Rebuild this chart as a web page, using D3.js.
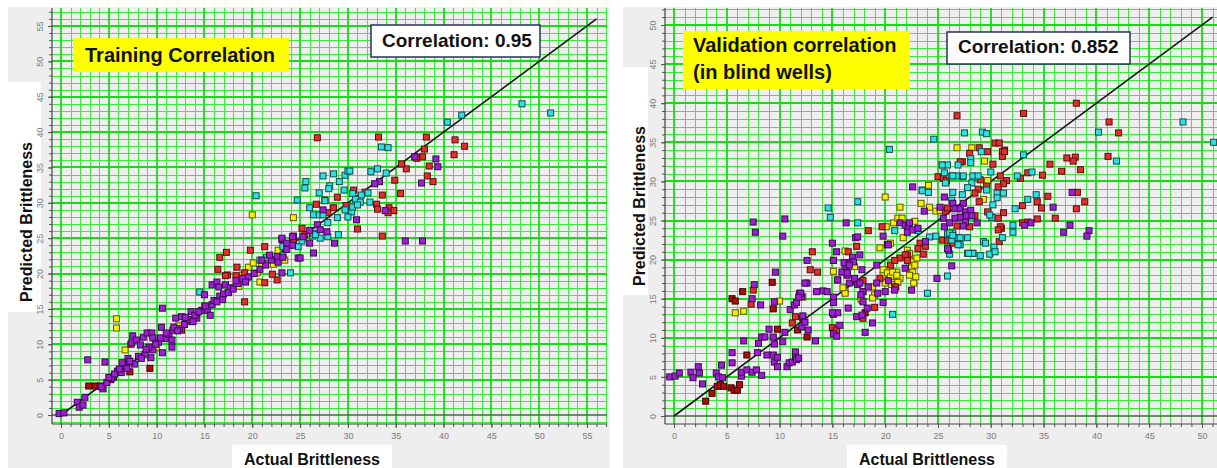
<!DOCTYPE html>
<html>
<head>
<meta charset="utf-8">
<script src="https://cdn.jsdelivr.net/npm/d3@7"></script>
<style>
body { margin: 0; background: #fff; }
svg text { font-family: "Liberation Sans", Arial, sans-serif; }
</style>
</head>
<body>
<div id="chart"></div>
<script>

// ---- training panel (actual, predicted) ----
let trainPurple = [
[-0.2,0.2],[0.3,0.3],[1.7,1.8],[1.9,1.1],[2.3,1.4],[2.5,2.5],[2.8,7.8],[4.4,3.7],[4.6,7.5],[4.2,4.0],[4.8,4.6],[5.3,5.2],[5.9,6.2],[6.3,6.0],[6.6,7.0],[6.9,6.6],[7.0,8.0],[7.4,10.2],[7.5,11.2],[7.9,10.6],[8.3,9.9],[8.6,11.0],[9.0,11.6],[9.5,11.6],[9.6,10.9],[9.4,8.1],[9.6,9.2],[7.7,7.2],[8.1,8.3],[8.8,8.6],[9.2,9.6],[10.6,15.1],[10.6,8.8],[10.5,12.4],[10.2,10.3],[10.9,10.8],[11.3,11.4],[11.6,9.6],[11.6,10.6],[11.7,12.0],[11.8,12.4],[12.0,13.7],[12.6,13.9],[13.1,13.2],[13.6,14.6],[14.2,13.7],[12.4,12.2],[12.9,12.8],[13.4,13.5],[14.0,14.1],[14.7,14.8],[15.3,14.8],[15.6,14.1],[15.8,15.6],[15.0,17.0],[15.8,18.4],[16.3,18.8],[16.5,18.1],[17.2,18.4],[17.7,18.0],[16.0,16.2],[16.6,16.8],[17.0,17.1],[17.5,17.3],[18.0,17.8],[18.5,18.6],[19.0,19.3],[19.6,19.5],[20.2,20.0],[20.8,20.6],[21.4,21.2],[22.0,21.9],[22.6,22.4],[23.1,20.1],[24.8,22.2],[24.3,25.3],[23.1,24.8],[26.4,22.9],[25.0,22.2],[26.8,26.9],[27.8,25.9],[27.1,26.2],[28.6,24.3],[27.4,29.0],[30.9,27.6],[33.9,28.9],[36.0,24.6],[37.8,24.6],[26.0,24.3],[33.3,33.0],[32.8,32.7],[39.2,36.2],[39.4,35.1],[37.0,36.5],[37.7,32.8],[23.6,23.4],[24.2,24.0],[25.3,25.2],[26.0,26.1],[23.1,25.0],[24.2,25.2],[23.6,24.3],
[5.0,5.3],[5.6,5.8],[6.1,6.5],[6.4,7.4],[7.2,7.6],[8.4,8.0],[8.9,9.3],[9.9,10.0],[10.4,10.9],[11.0,11.6],[12.2,11.9],[13.0,13.8],[13.8,13.2],[14.4,14.6],[15.1,15.4],[16.3,16.0],[16.9,16.3],[18.3,19.0],[19.3,18.8],[21.0,21.9],[21.8,22.6],[22.7,21.6],[23.2,22.3]
];
let trainRed = [
[5.2,5.0],[7.3,10.0],[12.6,12.0],[16.6,22.3],[17.3,23.0],[16.4,20.6],[17.4,19.8],[17.2,19.7],[18.4,20.9],[19.8,23.3],[21.3,23.8],[19.2,16.0],[21.3,18.7],[22.6,19.1],[22.1,19.9],[18.3,19.7],[19.2,20.1],[26.8,39.2],[26.7,29.8],[27.6,30.4],[28.5,29.3],[28.9,30.8],[30.6,31.8],[31.0,26.3],[25.2,26.4],[25.5,25.5],[33.2,39.3],[38.2,39.3],[41.2,38.9],[42.2,38.0],[41.1,36.8],[38.0,37.6],[37.0,36.5],[37.8,36.5],[37.2,36.3],[38.5,35.2],[38.3,33.8],[38.9,33.0],[36.1,34.8],[35.6,35.5],[34.9,33.2],[35.5,31.3],[33.6,31.1],[33.0,29.8],[33.1,29.1],[34.3,29.3],[34.8,28.9],[34.2,28.6],[33.6,25.3],[29.8,29.6],[31.8,31.5],[24.3,24.6],[27.9,28.6]
];
let trainDarkRed = [
[2.9,4.1],[3.6,4.1],[4.1,4.1],[5.5,5.4],[7.2,6.1],[9.3,6.6]
];
let trainCyan = [
[14.5,17.4],[20.8,21.9],[21.5,22.3],[23.2,22.6],[24.0,20.1],[20.4,31.0],[24.7,30.4],[25.6,33.0],[25.5,32.1],[27.4,33.8],[28.5,34.1],[29.7,33.9],[30.0,34.5],[30.2,34.5],[28.1,32.4],[28.0,32.0],[29.1,33.0],[29.6,31.8],[27.0,31.4],[27.6,30.3],[26.0,29.3],[26.4,28.3],[27.0,28.3],[27.4,28.3],[29.7,29.0],[30.4,28.7],[30.0,28.0],[30.5,29.4],[28.9,27.9],[27.9,27.2],[26.3,25.3],[27.1,25.0],[27.9,25.2],[29.0,25.5],[24.8,23.8],[23.2,23.8],[23.8,24.0],[48.2,44.0],[51.2,42.7],[40.4,41.4],[41.9,42.4],[33.5,37.9],[34.2,37.8],[32.4,34.4],[33.1,34.8],[34.0,34.2],[30.5,31.3],[31.4,31.1],[30.8,30.5],[32.1,31.4],[32.3,30.1],[31.3,30.1],[31.0,29.7],[26.4,25.7],[26.6,25.5],[25.2,24.6],[22.3,22.0]
];
let trainYellow = [
[5.8,13.6],[5.8,12.3],[6.7,9.2],[10.0,9.6],[19.6,20.9],[20.1,21.5],[20.5,20.1],[20.8,18.8],[20.0,28.3],[24.3,27.9],[25.4,25.0],[22.7,23.3],[23.4,21.9],[21.0,21.4],[21.7,22.0],[22.2,21.3],[19.0,19.8],[18.6,18.2],[15.0,15.4],[12.3,12.6]
];
let trainFit = [[0,0],[56,56]];

// ---- validation panel (actual, predicted) ----
let validPurple = [
[-0.4,5.0],[0.1,5.1],[0.5,5.5],[1.6,5.6],[1.8,4.9],[2.3,6.3],[2.4,5.5],[2.7,4.1],[4.0,5.5],[4.2,5.0],[4.6,4.9],[4.5,6.5],[5.5,6.8],[5.5,8.1],[6.4,5.1],[6.4,5.6],[6.9,5.9],[7.4,5.6],[7.8,5.9],[6.6,9.6],[7.4,15.0],[7.6,16.8],[8.2,14.2],[8.3,5.2],[7.9,8.1],[8.0,9.3],[8.3,10.1],[8.8,7.8],[9.4,7.8],[9.5,6.9],[9.8,6.3],[9.8,7.5],[8.6,10.1],[9.0,11.1],[9.4,10.1],[9.5,9.2],[9.5,14.6],[9.6,18.4],[10.3,9.5],[10.5,10.7],[10.7,6.3],[10.9,6.8],[11.2,6.9],[11.5,8.2],[11.5,7.5],[11.6,7.2],[11.8,7.4],[11.0,13.6],[11.4,14.2],[11.6,14.5],[12.1,11.4],[12.2,12.8],[12.4,12.0],[12.7,11.0],[13.4,9.6],[11.9,15.7],[12.1,15.3],[12.6,19.9],[12.6,17.0],[13.5,15.9],[14.1,16.0],[14.5,15.9],[15.0,22.1],[15.1,15.2],[15.1,14.5],[15.1,13.0],[15.5,13.2],[15.1,10.5],[15.4,10.2],[15.7,11.6],[15.4,21.0],[15.5,17.4],[16.5,13.8],[17.3,12.7],[17.8,12.9],[18.3,13.8],[18.8,11.9],[18.1,10.7],[16.2,18.7],[16.4,18.0],[16.6,19.6],[16.9,20.3],[17.0,19.7],[17.2,22.8],[17.4,22.9],[17.4,16.8],[17.9,15.9],[19.2,19.3],[19.8,14.5],[20.0,15.9],[20.2,21.9],[22.5,16.1],[7.5,24.8],[7.7,23.5],[10.5,25.2],[10.3,23.0],[16.3,24.7],[22.6,29.3],[25.6,28.0],[23.7,26.2],[26.4,27.2],[26.9,26.6],[27.4,27.2],[27.7,26.0],[27.1,25.4],[27.6,24.8],[21.4,24.7],[21.9,24.4],[22.2,24.2],[22.1,23.5],[22.6,23.8],[23.1,24.0],[22.3,24.7],[19.8,23.0],[20.3,21.9],[23.8,22.3],[26.0,21.2],[26.3,19.2],[24.9,17.6],[21.9,18.9],[35.9,26.7],[37.7,28.6],[33.2,24.4],[33.8,24.7],[37.5,24.4],[36.9,23.5],[39.3,23.7],[39.1,23.0],[25.2,26.7],[26.6,26.5],[27.1,26.5],[27.6,26.1],[28.1,26.3],[27.7,25.6],[28.2,25.6],[28.7,24.7],[27.4,24.3],[26.6,25.3],[25.5,25.3],[25.6,24.2],[26.1,24.7],[25.9,21.4],[15.1,19.9],[15.9,18.4],[16.1,19.6],[16.4,18.3],[16.6,19.3],[17.6,20.6],[16.6,17.0],[17.1,17.6],[17.6,17.0],[17.8,18.7],[20.3,17.3],[19.3,15.7],[20.9,16.1],[19.2,17.0],[18.4,16.5],[15.0,13.2],[17.9,14.6],[17.7,15.5],[12.0,15.7],[11.8,15.2],[12.4,17.0]
];
let validRed = [
[7.5,16.1],[7.3,14.3],[11.2,11.9],[11.5,12.7],[12.9,18.7],[13.1,21.0],[13.6,18.4],[15.0,11.3],[15.1,10.6],[15.4,11.0],[16.4,18.4],[17.3,17.1],[17.9,17.3],[19.5,17.6],[20.9,16.5],[22.1,20.6],[21.4,20.2],[26.8,38.4],[27.3,32.5],[25.0,30.6],[25.5,30.4],[25.8,30.1],[18.4,23.7],[19.7,24.2],[23.3,22.1],[23.8,21.7],[23.6,20.7],[23.1,21.4],[25.4,22.5],[25.9,22.4],[25.7,26.2],[25.9,26.6],[20.5,19.3],[20.9,19.9],[21.9,20.6],[22.1,19.9],[21.0,16.5],[38.1,40.0],[33.1,38.7],[28.0,33.6],[28.9,34.3],[29.7,33.8],[31.1,33.8],[31.3,34.0],[31.1,33.2],[27.1,32.5],[30.2,32.2],[37.2,33.0],[38.0,33.1],[37.8,32.6],[35.6,32.2],[36.7,31.3],[38.5,31.5],[32.8,30.4],[34.9,30.8],[33.5,31.1],[30.9,30.7],[31.5,30.1],[31.2,29.7],[30.7,29.3],[29.0,30.2],[29.6,29.4],[28.8,29.0],[28.5,28.5],[28.9,27.4],[29.7,26.1],[31.2,26.0],[33.0,26.9],[34.4,27.4],[34.8,26.6],[35.4,28.1],[36.1,25.3],[38.1,26.5],[38.9,27.4],[38.2,28.6],[33.0,24.7],[33.5,24.8],[34.4,25.2],[31.0,24.0],[26.8,24.3],[28.0,24.2],[28.5,25.6],[30.7,25.3],[30.9,24.2],[26.4,22.1],[30.8,22.3],[41.2,37.6],[42.1,36.2],[41.1,33.2],[30.4,34.9],[30.8,34.9],[31.3,33.8],[28.3,20.8],[30.7,23.8],[17.3,21.7],[16.5,21.0],[19.0,13.9],[17.9,12.5]
];
let validDarkRed = [
[3.0,1.9],[3.6,2.9],[4.1,3.8],[4.4,4.0],[4.7,3.8],[5.4,3.6],[5.7,3.3],[6.0,3.3],[6.2,4.0],[6.9,7.8],[5.5,15.0],[5.8,14.7],[6.5,15.9],[9.4,13.7],[9.8,11.1],[11.7,11.0],[12.6,10.1],[12.2,12.5],[9.3,17.1],[18.1,13.2]
];
let validCyan = [
[20.7,13.0],[27.5,36.2],[24.6,35.4],[20.4,34.1],[25.9,32.1],[26.9,32.1],[25.6,31.1],[26.3,30.7],[26.8,30.7],[27.3,30.6],[23.5,28.9],[24.1,28.6],[17.4,27.4],[14.6,26.6],[14.8,25.4],[17.4,24.7],[20.9,23.7],[23.1,23.7],[24.2,22.9],[24.8,23.0],[25.9,23.3],[26.4,23.4],[26.9,22.8],[26.3,22.5],[27.1,21.9],[26.1,20.7],[25.9,17.9],[24.0,15.7],[29.2,36.3],[29.6,36.1],[40.2,36.3],[29.1,33.8],[28.1,32.9],[28.1,32.4],[25.4,32.1],[33.1,33.4],[33.9,31.2],[32.5,30.7],[30.0,31.2],[25.7,29.8],[26.4,30.7],[27.4,30.7],[28.3,30.7],[28.8,30.7],[28.2,29.8],[27.8,29.2],[27.3,28.3],[26.4,28.6],[26.3,27.6],[29.6,28.9],[30.6,28.5],[31.2,28.5],[30.6,27.9],[30.2,27.0],[30.1,25.4],[29.9,25.7],[32.3,26.5],[33.5,27.7],[34.3,28.3],[32.1,24.4],[32.1,23.5],[26.1,23.4],[26.4,23.1],[27.1,22.8],[27.8,22.8],[29.3,22.3],[29.5,22.1],[30.3,21.6],[31.1,22.8],[26.9,21.9],[27.8,20.8],[28.3,20.8],[29.0,20.5],[29.9,20.7],[30.4,21.0],[48.2,37.6],[51.1,35.0],[41.9,32.6],[23.5,28.8],[27.9,20.8]
];
let validYellow = [
[5.8,13.2],[6.6,13.4],[10.0,14.7],[12.2,15.2],[15.1,19.9],[15.5,17.4],[15.1,18.5],[16.2,15.9],[16.2,21.1],[17.1,19.1],[17.8,14.8],[17.9,15.9],[18.8,16.5],[19.0,15.5],[18.8,15.1],[19.5,21.5],[19.8,18.0],[20.3,18.7],[20.2,17.1],[20.6,16.8],[21.1,17.8],[21.4,17.6],[21.1,18.4],[22.3,19.9],[22.5,19.1],[22.6,18.4],[22.9,17.8],[22.3,18.0],[22.7,17.0],[26.8,34.3],[25.4,32.1],[24.1,29.5],[20.0,28.0],[23.4,27.2],[21.4,26.7],[24.2,26.7],[24.8,26.2],[25.2,26.3],[20.1,24.2],[20.8,24.7],[21.2,25.3],[21.6,25.3],[22.8,24.9],[21.7,22.8],[20.5,22.1],[22.1,21.2],[22.3,20.8],[22.5,19.7],[22.8,19.3],[23.0,20.2],[19.8,18.7],[20.2,18.3],[20.5,17.8],[20.7,18.4],[21.1,18.0],[21.2,17.1],[20.0,17.0],[28.2,34.3],[29.4,32.6],[29.7,30.1],[29.3,27.7],[17.7,15.0],[16.2,15.7],[16.0,16.4]
];
let validFit = [[0,0],[51,51]];

let trainTicks = [0,5,10,15,20,25,30,35,40,45,50,55];
let validTicks = [0,5,10,15,20,25,30,35,40,45,50];

function main(){

    let width = 1217;
    let height = 468;

    let svg = d3.select("#chart")
                .append("svg")
                .attr("width", width)
                .attr("height", height)

    svg.append("rect").attr("width", width).attr("height", height).attr("fill", "#ffffff")

    drawPanel(svg, {
        id: "train",
        bg: [8, 7, 602, 461],
        plot: [52, 8, 555, 416],
        xMax: 55, xRange: [61, 587],
        yMax: 55, yRange: [415, 26],
        ticks: trainTicks,
        yTitleBox: [8, 82, 33, 230], yTitlePos: [32, 222],
        xTitleBox: [232, 445, 160, 23], xTitlePos: [312, 465],
        noteBox: [73, 38, 216, 34], noteLines: ["Training Correlation"], noteX: 85, noteY: [62],
        corrBox: [371, 25, 169, 32], corrText: "Correlation: 0.95", corrPos: [382, 47],
        fit: trainFit,
        series: [
            {data: trainYellow, fill: "#f4f000", stroke: "#5c5a00"},
            {data: trainDarkRed, fill: "#b30c0c", stroke: "#3a0000"},
            {data: trainRed, fill: "#e0302e", stroke: "#5a0b0b"},
            {data: trainCyan, fill: "#2fe2e2", stroke: "#0b4c4c"},
            {data: trainPurple, fill: "#9e1ed4", stroke: "#3a0a4e"}
        ]
    })

    drawPanel(svg, {
        id: "valid",
        bg: [623, 7, 594, 461],
        plot: [665, 8, 552, 416],
        xMax: 50, xRange: [674, 1202],
        yMax: 50, yRange: [416, 25],
        ticks: validTicks,
        yTitleBox: [610, 67, 38, 228], yTitlePos: [645, 206],
        xTitleBox: [847, 445, 160, 23], xTitlePos: [927, 465],
        noteBox: [683, 31, 227, 58], noteLines: ["Validation correlation", "(in blind wells)"], noteX: 693, noteY: [52, 79],
        corrBox: [947, 32, 183, 32], corrText: "Correlation: 0.852", corrPos: [958, 53],
        fit: validFit,
        series: [
            {data: validYellow, fill: "#f4f000", stroke: "#5c5a00"},
            {data: validDarkRed, fill: "#b30c0c", stroke: "#3a0000"},
            {data: validRed, fill: "#e0302e", stroke: "#5a0b0b"},
            {data: validCyan, fill: "#2fe2e2", stroke: "#0b4c4c"},
            {data: validPurple, fill: "#9e1ed4", stroke: "#3a0a4e"}
        ]
    })
}

function drawPanel(svg, p){

    let [px, py, pw, ph] = p.plot;
    let plotRight = px + pw;
    let plotBottom = py + ph;

    let xScale = d3.scaleLinear().domain([0, p.xMax]).range(p.xRange)
    let yScale = d3.scaleLinear().domain([0, p.yMax]).range(p.yRange)

    let panel = svg.append("g").attr("id", p.id)

    panel.append("rect")
        .attr("x", p.bg[0]).attr("y", p.bg[1])
        .attr("width", p.bg[2]).attr("height", p.bg[3])
        .attr("fill", "#eeeeee")

    // white boxes behind the axis titles
    panel.append("rect")
        .attr("x", p.yTitleBox[0]).attr("y", p.yTitleBox[1])
        .attr("width", p.yTitleBox[2]).attr("height", p.yTitleBox[3])
        .attr("fill", "#ffffff")
    panel.append("rect")
        .attr("x", p.xTitleBox[0]).attr("y", p.xTitleBox[1])
        .attr("width", p.xTitleBox[2]).attr("height", p.xTitleBox[3])
        .attr("fill", "#ffffff")

    panel.append("rect")
        .attr("x", px).attr("y", py).attr("width", pw).attr("height", ph)
        .attr("fill", "#efefef")

    panel.append("clipPath").attr("id", "clip-" + p.id)
        .append("rect").attr("x", px).attr("y", py).attr("width", pw).attr("height", ph)

    let inner = panel.append("g").attr("clip-path", `url(#clip-${p.id})`)

    // grid, one line per unit, brighter every 5
    let xLo = Math.ceil(xScale.invert(px)), xHi = Math.floor(xScale.invert(plotRight))
    let yLo = Math.ceil(yScale.invert(plotBottom)), yHi = Math.floor(yScale.invert(py))
    let xGrid = d3.range(xLo, xHi + 1)
    let yGrid = d3.range(yLo, yHi + 1)
    let snap = v => Math.round(v) + 0.5

    let grid = inner.append("g")
    grid.selectAll("line.vx").data(xGrid.filter(d => d % 5 != 0)).enter().append("line")
        .attr("x1", d => snap(xScale(d))).attr("x2", d => snap(xScale(d)))
        .attr("y1", py).attr("y2", plotBottom)
        .attr("stroke", "#3cea3c").attr("stroke-width", 1)
    grid.selectAll("line.hy").data(yGrid.filter(d => d % 5 != 0)).enter().append("line")
        .attr("y1", d => snap(yScale(d))).attr("y2", d => snap(yScale(d)))
        .attr("x1", px).attr("x2", plotRight)
        .attr("stroke", "#3cea3c").attr("stroke-width", 1)
    grid.selectAll("line.vX").data(xGrid.filter(d => d % 5 == 0)).enter().append("line")
        .attr("x1", d => Math.round(xScale(d))).attr("x2", d => Math.round(xScale(d)))
        .attr("y1", py).attr("y2", plotBottom)
        .attr("stroke", "#16dc16").attr("stroke-width", 1.8)
    grid.selectAll("line.hY").data(yGrid.filter(d => d % 5 == 0 && d != 0)).enter().append("line")
        .attr("y1", d => Math.round(yScale(d))).attr("y2", d => Math.round(yScale(d)))
        .attr("x1", px).attr("x2", plotRight)
        .attr("stroke", "#16dc16").attr("stroke-width", 1.8)
    // y = 0 line is darker
    grid.append("line")
        .attr("y1", Math.round(yScale(0))).attr("y2", Math.round(yScale(0)))
        .attr("x1", px).attr("x2", plotRight)
        .attr("stroke", "#3c6a3c").attr("stroke-width", 1.5)

    // fit line
    let line = d3.line().x(d => xScale(d[0])).y(d => yScale(d[1]))
    inner.append("path")
        .attr("d", line(p.fit))
        .attr("fill", "none")
        .attr("stroke", "#151515")
        .attr("stroke-width", 1.6)

    let size = 6
    p.series.forEach(s => {
        inner.append("g").selectAll("rect")
            .data(s.data)
            .enter()
            .append("rect")
            .attr("x", d => xScale(d[0]) - size / 2)
            .attr("y", d => yScale(d[1]) - size / 2)
            .attr("width", size)
            .attr("height", size)
            .attr("fill", s.fill)
            .attr("stroke", s.stroke)
            .attr("stroke-width", 1)
    })

    // axes
    let xMinor = d3.axisBottom(xScale).tickValues(xGrid.filter(d => d >= 0)).tickSize(3).tickFormat("")
    let xMajor = d3.axisBottom(xScale).tickValues(p.ticks).tickSize(4).tickFormat(d3.format("d"))
    let yMinor = d3.axisLeft(yScale).tickValues(yGrid.filter(d => d >= 0)).tickSize(3).tickFormat("")
    let yMajor = d3.axisLeft(yScale).tickValues(p.ticks).tickSize(4).tickFormat(d3.format("d"))

    let xAxisG = panel.append("g").attr("transform", `translate(0,${plotBottom})`)
    xAxisG.append("g").call(xMinor)
    xAxisG.append("g").call(xMajor)
    let yAxisG = panel.append("g").attr("transform", `translate(${px},0)`)
    yAxisG.append("g").call(yMinor)
    yAxisG.append("g").call(yMajor)

    panel.selectAll(".domain").remove()
    panel.selectAll(".tick line").attr("stroke", "#555")
    panel.selectAll(".tick text")
        .attr("fill", "#7a7a7a")
        .attr("font-size", 9)
        .attr("font-family", "Liberation Sans, Arial, sans-serif")
    xAxisG.selectAll(".tick text").attr("y", 9)
    yAxisG.selectAll(".tick text")
        .attr("transform", "rotate(-90)")
        .attr("x", 0).attr("y", -9).attr("dy", 0)
        .attr("text-anchor", "middle")

    panel.append("line")
        .attr("x1", px).attr("x2", plotRight).attr("y1", plotBottom).attr("y2", plotBottom)
        .attr("stroke", "#444").attr("stroke-width", 1.2)
    panel.append("line")
        .attr("x1", px).attr("x2", px).attr("y1", py).attr("y2", plotBottom)
        .attr("stroke", "#444").attr("stroke-width", 1.2)

    // titles
    panel.append("text")
        .attr("transform", `translate(${p.yTitlePos[0]},${p.yTitlePos[1]}) rotate(-90)`)
        .attr("text-anchor", "middle")
        .attr("font-size", 16).attr("font-weight", "bold").attr("fill", "#111")
        .text("Predicted Brittleness")
    panel.append("text")
        .attr("x", p.xTitlePos[0]).attr("y", p.xTitlePos[1])
        .attr("text-anchor", "middle")
        .attr("font-size", 16).attr("font-weight", "bold").attr("fill", "#111")
        .text("Actual Brittleness")

    panel.append("rect")
        .attr("x", p.noteBox[0]).attr("y", p.noteBox[1])
        .attr("width", p.noteBox[2]).attr("height", p.noteBox[3])
        .attr("fill", "#ffff00")
    p.noteLines.forEach((t, i) => {
        panel.append("text")
            .attr("x", p.noteX).attr("y", p.noteY[i])
            .attr("font-size", 20).attr("font-weight", "bold").attr("fill", "#111")
            .text(t)
    })

    panel.append("rect")
        .attr("x", p.corrBox[0]).attr("y", p.corrBox[1])
        .attr("width", p.corrBox[2]).attr("height", p.corrBox[3])
        .attr("fill", "#ffffff").attr("stroke", "#2a2f5e").attr("stroke-width", 1.5)
    panel.append("text")
        .attr("x", p.corrPos[0]).attr("y", p.corrPos[1])
        .attr("font-size", 19).attr("font-weight", "bold").attr("fill", "#111")
        .text(p.corrText)
}

main()
</script>
</body>
</html>
